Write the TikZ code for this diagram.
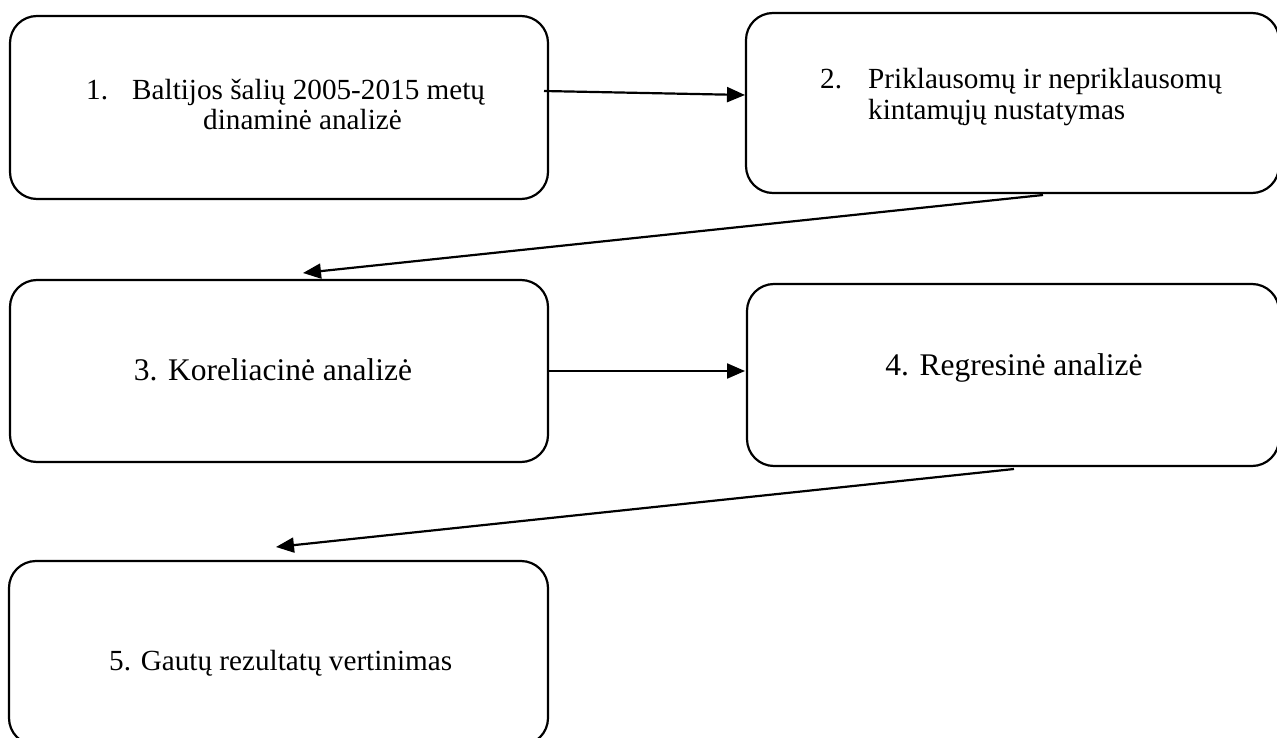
\documentclass[tikz,border=0pt]{standalone}
\usepackage{fontspec}
\setmainfont{Liberation Serif}
\usetikzlibrary{arrows.meta}
\begin{document}
\begin{tikzpicture}[x=1pt,y=-1pt,
  stepbox/.style={draw=black,line width=2.2pt,rounded corners=27pt,inner sep=0pt},
  txt/.style={anchor=base west,inner sep=0pt,font=\fontsize{29.2}{30.5}\selectfont},
  bigtxt/.style={anchor=base,inner sep=0pt,font=\fontsize{31.5}{33}\selectfont},
  arr/.style={line width=2.2pt,-{Triangle[length=18pt,width=15pt]}}]
\useasboundingbox (0,0) rectangle (1277,738);
% boxes
\node[stepbox,minimum width=538pt,minimum height=183pt] (box1) at (279,107.5) {};
\node[stepbox,minimum width=533pt,minimum height=180pt] (box2) at (1012.5,103) {};
\node[stepbox,minimum width=538pt,minimum height=182pt] (box3) at (279,371) {};
\node[stepbox,minimum width=532pt,minimum height=182pt] (box4) at (1013,375) {};
\node[stepbox,minimum width=539pt,minimum height=184pt] (box5) at (278.5,653) {};
% texts
\node[txt] (t1n) at (86,100) {1.};
\node[txt] (t1a) at (132,100) {Baltijos šalių 2005-2015 metų};
\node[txt] (t1b) at (203,130) {dinaminė analizė};
\node[txt] (t2n) at (820,89) {2.};
\node[txt] (t2a) at (868,89) {Priklausomų ir nepriklausomų};
\node[txt] (t2b) at (868,119.5) {kintamųjų nustatymas};
\node[bigtxt] (t3) at (273,380) {3. Koreliacinė analizė};
\node[bigtxt] (t4) at (1014,375) {4. Regresinė analizė};
\node[txt] (t5) at (109,670) {5. Gautų rezultatų vertinimas};
% connector end points
\coordinate (a12s) at (544,91);
\coordinate (a12e) at (745,95);
\coordinate (a23s) at (1043,195);
\coordinate (a23e) at (303,273);
\coordinate (a34s) at (548,371);
\coordinate (a34e) at (745,371);
\coordinate (a45s) at (1014,469);
\coordinate (a45e) at (276,547);
% connectors
\draw[arr] (a12s) -- (a12e);
\draw[arr] (a23s) -- (a23e);
\draw[arr] (a34s) -- (a34e);
\draw[arr] (a45s) -- (a45e);
\end{tikzpicture}
\end{document}
